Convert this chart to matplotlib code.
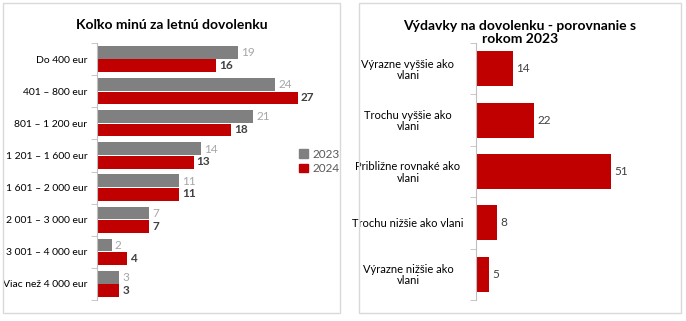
import matplotlib.pyplot as plt
from matplotlib.patches import Rectangle, Patch
import numpy as np

# left chart
ranges = ["Do 400 eur", "401 – 800 eur", "801 – 1 200 eur", "1 201 – 1 600 eur",
          "1 601 – 2 000 eur", "2 001 – 3 000 eur", "3 001 – 4 000 eur", "Viac než 4 000 eur"]
y2023 = [19, 24, 21, 14, 11, 7, 2, 3]
y2024 = [16, 27, 18, 13, 11, 7, 4, 3]

# right chart
answers = ["Výrazne vyššie ako\nvlani", "Trochu vyššie ako\nvlani", "Približne rovnaké ako\nvlani",
           "Trochu nižšie ako vlani", "Výrazne nižšie ako\nvlani"]
shares = [14, 22, 51, 8, 5]

GRAY = "#808080"
RED = "#c00000"
TXT = "#404040"
plt.rcParams['font.family'] = ['Lato', 'DejaVu Sans']

W, H = 686, 321
fig = plt.figure(figsize=(W / 100, H / 100), dpi=100)

def px_axes(x0, y0, x1, y1):
    return fig.add_axes([x0 / W, 1 - y1 / H, (x1 - x0) / W, (y1 - y0) / H])

# panel frames
for x0, x1 in [(3, 340), (359, 681)]:
    fig.patches.append(Rectangle((x0 / W, 1 - 313 / H), (x1 - x0) / W, 310 / H,
                                 transform=fig.transFigure, fill=False,
                                 edgecolor="#d9d9d9", linewidth=1))

def style(ax, n):
    for s in ["top", "right", "bottom"]:
        ax.spines[s].set_visible(False)
    ax.spines["left"].set_color("#bfbfbf")
    ax.set_xticks([])
    ax.set_ylim(n - 0.5, -0.5)
    ax.tick_params(axis="y", length=0, colors="black", pad=7)
    ax.set_yticks(np.arange(n + 1) - 0.5, minor=True)
    ax.tick_params(axis="y", which="minor", length=4, color="#bfbfbf")

# ---- left
ax1 = px_axes(97, 43, 320, 300)
pos = np.arange(len(ranges))
h = 0.4
ax1.barh(pos - h / 2 - 0.01, y2023, height=h, color=GRAY, label="2023")
ax1.barh(pos + h / 2 + 0.01, y2024, height=h, color=RED, label="2024")
for i in range(len(ranges)):
    ax1.text(y2023[i] + 0.4, pos[i] - h / 2, str(y2023[i]), va="center", ha="left",
             fontsize=8.5, color="#a6a6a6")
    ax1.text(y2024[i] + 0.4, pos[i] + h / 2, str(y2024[i]), va="center", ha="left",
             fontsize=8.5, color=TXT, fontweight="bold")
ax1.set_xlim(0, 30)
style(ax1, len(ranges))
ax1.set_yticks(pos)
ax1.set_yticklabels(ranges, fontsize=7.5)
ax1.legend(handles=[Patch(color=GRAY, label="2023"), Patch(color=RED, label="2024")],
           loc="upper left", bbox_to_anchor=(0.86, 0.63), frameon=False, fontsize=8.5,
           handlelength=0.7, handleheight=0.7, handletextpad=0.4, labelspacing=0.3,
           labelcolor="#595959")
fig.text(172 / W, 1 - 25 / H, "Koľko minú za letnú dovolenku", ha="center", va="center",
         fontsize=10, fontweight="bold")

# ---- right
ax2 = px_axes(476, 43, 635, 300)
pos2 = np.arange(len(answers))
ax2.barh(pos2, shares, height=0.68, color=RED)
for i, v in enumerate(shares):
    ax2.text(v + 1.2, pos2[i], str(v), va="center", ha="left", fontsize=8.5, color=TXT)
ax2.set_xlim(0, 60)
style(ax2, len(answers))
ax2.set_yticks(pos2)
ax2.set_yticklabels(answers, fontsize=8, ha="center", linespacing=1.0)
ax2.tick_params(axis="y", pad=49)
fig.text(520 / W, 1 - 32.5 / H, "Výdavky na dovolenku - porovnanie s\nrokom 2023", ha="center",
         va="center", fontsize=10, fontweight="bold", linespacing=1.15)

fig.savefig("out.png", dpi=100)
